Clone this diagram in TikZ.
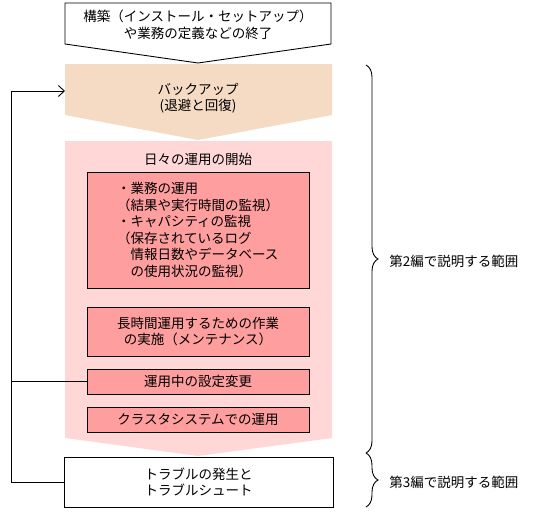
\documentclass[tikz,border=0pt]{standalone}
\usepackage{fontspec}
\setmainfont{Noto Sans CJK JP}
\usetikzlibrary{arrows.meta,decorations.pathreplacing}
\tikzset{every node/.append style={align=center}}
\definecolor{flowbeige}{RGB}{245,219,196}
\definecolor{flowpink}{RGB}{255,215,215}
\definecolor{flowsalmon}{RGB}{255,158,158}

\begin{document}
\begin{tikzpicture}[x=1pt, y=-1pt, line width=0.9pt,
    font=\fontsize{13.5}{16.5}\selectfont,
    workbox/.style={draw, fill=flowsalmon, minimum width=222pt, inner sep=0pt},
    loopend/.style={-{Straight Barb[length=6pt, width=11pt]}},
    rangebrace/.style={decorate, decoration={brace, amplitude=12pt}}]

  \useasboundingbox (0,0) rectangle (546,520);

  % === STAGE SHAPES ===
  % Backup (beige)
  \fill[flowbeige]
    (65,64) -- (332,64) -- (332,115) -- (198,140) -- (65,115) -- cycle;
  % Daily operation (light pink)
  \fill[flowpink]
    (65,141) -- (332,141) -- (332,438) -- (198,456) -- (65,438) -- cycle;
  % Construction finished (white, outlined)
  \draw[fill=white]
    (65,3) -- (331,3) -- (331,44) -- (198,63) -- (65,44) -- cycle;

  % === TEXTS ===
  \node (build) at (198,25)
    {構築（インストール・セットアップ）\\や業務の定義などの終了};
  \node (backup) at (198,98)
    {バックアップ\\(退避と回復)};
  \coordinate (backupin) at (65,91);
  \node (daily) at (198,159) {日々の運用の開始};

  % Work items inside the daily operation
  \node[workbox, minimum height=116pt, align=left] (monitor) at (198,230)
    {・業務の運用\\（結果や実行時間の監視）\\・キャパシティの監視\\（保存されているログ\\　情報日数やデータベース\\　の使用状況の監視）};
  \node[workbox, minimum height=49pt] (maint) at (198,331.5)
    {長時間運用するための作業\\の実施（メンテナンス）};
  \node[workbox, minimum height=25pt] (setting) at (198,381.5)
    {運用中の設定変更};
  \node[workbox, minimum height=25pt] (cluster) at (198,419.5)
    {クラスタシステムでの運用};

  % Trouble
  \node[draw, fill=white, minimum width=269pt, minimum height=50pt]
    (trouble) at (198.5,482)
    {トラブルの発生と\\トラブルシュート};

  % === FEEDBACK LOOP ===
  \coordinate (loopcorner) at (11,91);
  \draw[loopend]
    (setting.west) -| (loopcorner) -- (backupin);
  \draw
    (trouble.west) -- (trouble.west -| loopcorner)
    -- (setting.west -| loopcorner);

  % === RANGES ===
  \draw[rangebrace] (366,65) -- (366,453);
  \node[right, inner sep=0pt] (part2) at (389,261)
    {第2編で説明する範囲};
  \draw[rangebrace] (366,453) -- (366,507);
  \node[right, inner sep=0pt] (part3) at (389,482)
    {第3編で説明する範囲};

\end{tikzpicture}
\end{document}
